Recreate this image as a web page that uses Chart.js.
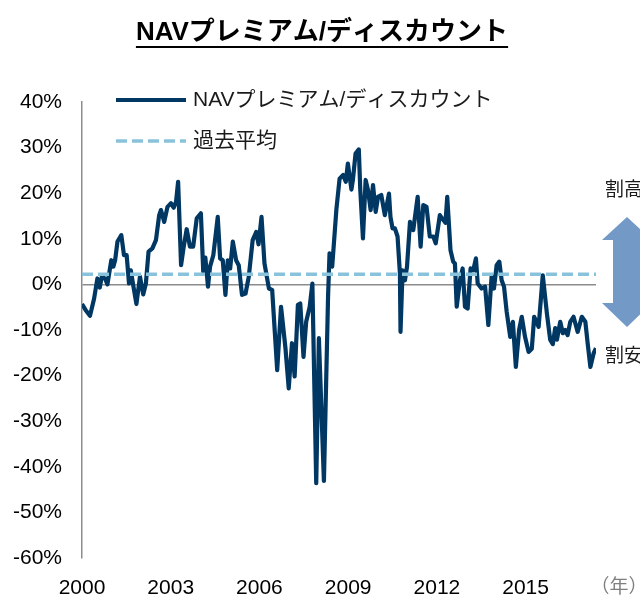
<!DOCTYPE html>
<html>
<head>
<meta charset="utf-8">
<script src="https://cdn.jsdelivr.net/npm/chart.js@4.4.1/dist/chart.umd.min.js"></script>
<style>
  html, body { margin: 0; padding: 0; background: #fff; }
  #wrap { width: 640px; height: 598px; }
</style>
</head>
<body>
<div id="wrap"><canvas id="navChart" width="640" height="598"></canvas></div>
<script>
// 月次データ(年の小数表記)
const years = [
  2000.00, 2000.12, 2000.27, 2000.41, 2000.52, 2000.60, 2000.67, 2000.78, 2000.86, 2000.99,
  2001.06, 2001.12, 2001.20, 2001.33, 2001.42, 2001.51, 2001.59, 2001.65, 2001.73, 2001.84,
  2001.96, 2002.07, 2002.16, 2002.25, 2002.38, 2002.50, 2002.61, 2002.67, 2002.78, 2002.89,
  2003.01, 2003.10, 2003.18, 2003.25, 2003.35, 2003.44, 2003.54, 2003.65, 2003.76, 2003.88,
  2004.02, 2004.10, 2004.17, 2004.26, 2004.33, 2004.44, 2004.59, 2004.67, 2004.76, 2004.85,
  2004.93, 2005.01, 2005.10, 2005.21, 2005.30, 2005.41, 2005.53, 2005.64, 2005.77, 2005.89,
  2005.97, 2006.07, 2006.17, 2006.32, 2006.43, 2006.60, 2006.73, 2006.88, 2006.99, 2007.10,
  2007.19, 2007.30, 2007.38, 2007.49, 2007.58, 2007.70, 2007.79, 2007.92, 2008.01, 2008.18,
  2008.32, 2008.37, 2008.46, 2008.60, 2008.71, 2008.83, 2008.92, 2008.99, 2009.11, 2009.16,
  2009.25, 2009.36, 2009.41, 2009.50, 2009.59, 2009.67, 2009.76, 2009.84, 2009.93, 2010.01,
  2010.12, 2010.24, 2010.38, 2010.43, 2010.50, 2010.58, 2010.67, 2010.75, 2010.77, 2010.84,
  2010.92, 2010.99, 2011.09, 2011.20, 2011.35, 2011.45, 2011.54, 2011.65, 2011.76, 2011.88,
  2011.96, 2012.10, 2012.22, 2012.29, 2012.35, 2012.46, 2012.55, 2012.61, 2012.67, 2012.78,
  2012.87, 2012.95, 2013.04, 2013.14, 2013.23, 2013.32, 2013.38, 2013.51, 2013.63, 2013.74,
  2013.85, 2013.93, 2014.02, 2014.11, 2014.19, 2014.27, 2014.36, 2014.48, 2014.57, 2014.67,
  2014.78, 2014.87, 2014.98, 2015.10, 2015.21, 2015.29, 2015.44, 2015.58, 2015.72, 2015.83,
  2015.92, 2016.00, 2016.06, 2016.17, 2016.26, 2016.34, 2016.42, 2016.51, 2016.62, 2016.76,
  2016.90, 2017.02, 2017.10, 2017.19, 2017.30, 2017.38
];

// NAVプレミアム/ディスカウント(%)
const premium = [
  -4.3, -5.6, -6.9, -3.1, 1.3, -0.7, 1.7, 1.3, 0.0, 5.3,
  3.9, 5.3, 9.4, 10.8, 6.4, 6.4, 0.2, 3.1, -0.1, -4.3,
  1.7, -2.2, 0.2, 7.2, 7.9, 9.7, 15.2, 16.3, 13.7, 17.0,
  17.8, 16.8, 18.1, 22.5, 4.2, 8.3, 12.1, 8.3, 8.3, 14.5,
  15.6, 2.8, 5.9, -0.5, 3.9, 6.4, 14.8, 5.7, 5.3, -2.3,
  5.3, 3.5, 9.4, 5.3, 4.2, -2.3, -2.0, 1.7, 9.7, 11.5,
  8.8, 14.8, 4.6, -0.9, -1.2, -18.8, -4.9, -14.0, -22.8, -12.9,
  -20.2, -4.5, -4.2, -15.9, -8.2, -4.9, 0.2, -43.6, -11.8, -43.1,
  -2.7, 6.8, 3.9, 16.3, 23.2, 24.0, 22.5, 26.5, 20.8, 22.9,
  28.7, 29.6, 20.7, 10.1, 22.9, 20.7, 16.3, 21.8, 15.9, 19.2,
  19.6, 15.2, 19.9, 14.8, 12.3, 12.3, 10.5, 2.4, -10.4, 3.1,
  0.9, 3.9, 13.7, 11.9, 19.2, 8.3, 17.4, 17.0, 10.5, 10.5,
  9.0, 15.2, 14.1, 13.5, 19.2, 7.5, 5.0, 4.6, -4.9, 0.9,
  3.5, -4.9, -5.3, 3.5, 3.1, 5.7, 0.2, -0.9, -0.5, -8.9,
  1.7, -0.9, 4.2, 5.0, 0.9, -0.5, -6.0, -11.5, -8.2, -18.1,
  -10.0, -7.1, -11.5, -14.8, -14.1, -7.1, -9.3, 2.0, -6.4, -12.1,
  -13.1, -9.6, -12.1, -8.2, -10.7, -10.0, -11.1, -8.2, -7.1, -10.4,
  -7.1, -8.2, -13.0, -18.1, -15.1, -14.0
];

// 過去平均(%)
const averageValue = 2.2;

// 軸の目盛
const xTickYears = [2000, 2003, 2006, 2009, 2012, 2015];
const yMin = -60;
const yMax = 40;
const yStep = 10;

const TEXT_FONT = '"Liberation Sans", "Noto Sans CJK JP", sans-serif';

// タイトル・凡例・注記を描くプラグイン
const decorPlugin = {
  id: 'decor',
  afterDraw(chart) {
    const ctx = chart.ctx;
    ctx.save();

    // タイトル(下線付き)
    const title = 'NAVプレミアム/ディスカウント';
    ctx.font = 'bold 26px ' + TEXT_FONT;
    ctx.fillStyle = '#000';
    ctx.textAlign = 'center';
    ctx.textBaseline = 'alphabetic';
    ctx.fillText(title, 322, 40);
    const tw = ctx.measureText(title).width;
    ctx.fillRect(322 - tw / 2, 46, tw, 2);

    // 凡例
    const ds = chart.data.datasets;
    ctx.textAlign = 'left';
    ctx.textBaseline = 'middle';
    ctx.font = '21px ' + TEXT_FONT;
    ctx.fillStyle = '#1a1a1a';

    ctx.lineCap = 'butt';
    ctx.strokeStyle = ds[0].borderColor;
    ctx.lineWidth = 4;
    ctx.beginPath();
    ctx.moveTo(116, 100);
    ctx.lineTo(186, 100);
    ctx.stroke();
    ctx.fillText(ds[0].label, 193, 100);

    ctx.strokeStyle = ds[1].borderColor;
    ctx.lineWidth = 3.5;
    ctx.setLineDash(ds[1].borderDash);
    ctx.beginPath();
    ctx.moveTo(116, 141);
    ctx.lineTo(186, 141);
    ctx.stroke();
    ctx.setLineDash([]);
    ctx.fillText(ds[1].label, 193, 141);

    // 右側の注記
    ctx.font = '19px ' + TEXT_FONT;
    ctx.fillStyle = '#1a1a1a';
    ctx.fillText('割高', 605, 191);
    ctx.fillText('割安', 605, 357);

    // 両向き矢印
    const cx = 627;
    ctx.fillStyle = '#7399C6';
    ctx.beginPath();
    ctx.moveTo(cx, 217);
    ctx.lineTo(cx + 25, 240);
    ctx.lineTo(cx + 14, 240);
    ctx.lineTo(cx + 14, 303);
    ctx.lineTo(cx + 25, 303);
    ctx.lineTo(cx, 327);
    ctx.lineTo(cx - 25, 303);
    ctx.lineTo(cx - 14, 303);
    ctx.lineTo(cx - 14, 240);
    ctx.lineTo(cx - 25, 240);
    ctx.closePath();
    ctx.fill();

    // 年の単位
    ctx.font = '19px ' + TEXT_FONT;
    ctx.fillStyle = '#7f7f7f';
    ctx.textAlign = 'center';
    ctx.fillText('（年）', 619, 588);

    ctx.restore();
  }
};

const ctx = document.getElementById('navChart').getContext('2d');

const chart = new Chart(ctx, {
  type: 'line',
  data: {
    datasets: [
      {
        label: 'NAVプレミアム/ディスカウント',
        data: years.map((y, i) => ({ x: y, y: premium[i] })),
        borderColor: '#003763',
        borderWidth: 4.2,
        borderJoinStyle: 'round',
        pointRadius: 0,
        tension: 0,
        order: 2
      },
      {
        label: '過去平均',
        data: [
          { x: years[0], y: averageValue },
          { x: years[years.length - 1], y: averageValue }
        ],
        borderColor: '#89C3DB',
        borderWidth: 3.5,
        borderDash: [11, 5],
        pointRadius: 0,
        order: 1
      }
    ]
  },
  options: {
    responsive: false,
    animation: false,
    layout: {
      padding: { left: 0, right: 44, top: 102, bottom: 0 }
    },
    plugins: {
      legend: { display: false },
      title: { display: false },
      tooltip: { enabled: false }
    },
    scales: {
      x: {
        type: 'linear',
        min: years[0],
        max: years[years.length - 1],
        afterBuildTicks: (scale) => {
          scale.ticks = xTickYears.map(v => ({ value: v }));
        },
        afterFit: (scale) => { scale.height = 40; },
        grid: { display: false, drawTicks: false },
        border: { display: false },
        ticks: {
          padding: 18,
          color: '#000',
          font: { family: TEXT_FONT, size: 21 },
          maxRotation: 0,
          autoSkip: false,
          callback: (v) => String(v)
        }
      },
      y: {
        min: yMin,
        max: yMax,
        afterFit: (scale) => { scale.width = 82; },
        grid: {
          drawTicks: false,
          lineWidth: 1.5,
          color: (c) => (c.tick && c.tick.value === 0 ? '#8c8c8c' : 'rgba(0,0,0,0)')
        },
        border: { display: true, color: '#8c8c8c', width: 1.5 },
        ticks: {
          stepSize: yStep,
          padding: 20,
          color: '#000',
          font: { family: TEXT_FONT, size: 21 },
          callback: (v) => v + '%'
        }
      }
    }
  },
  plugins: [decorPlugin]
});
</script>
</body>
</html>
